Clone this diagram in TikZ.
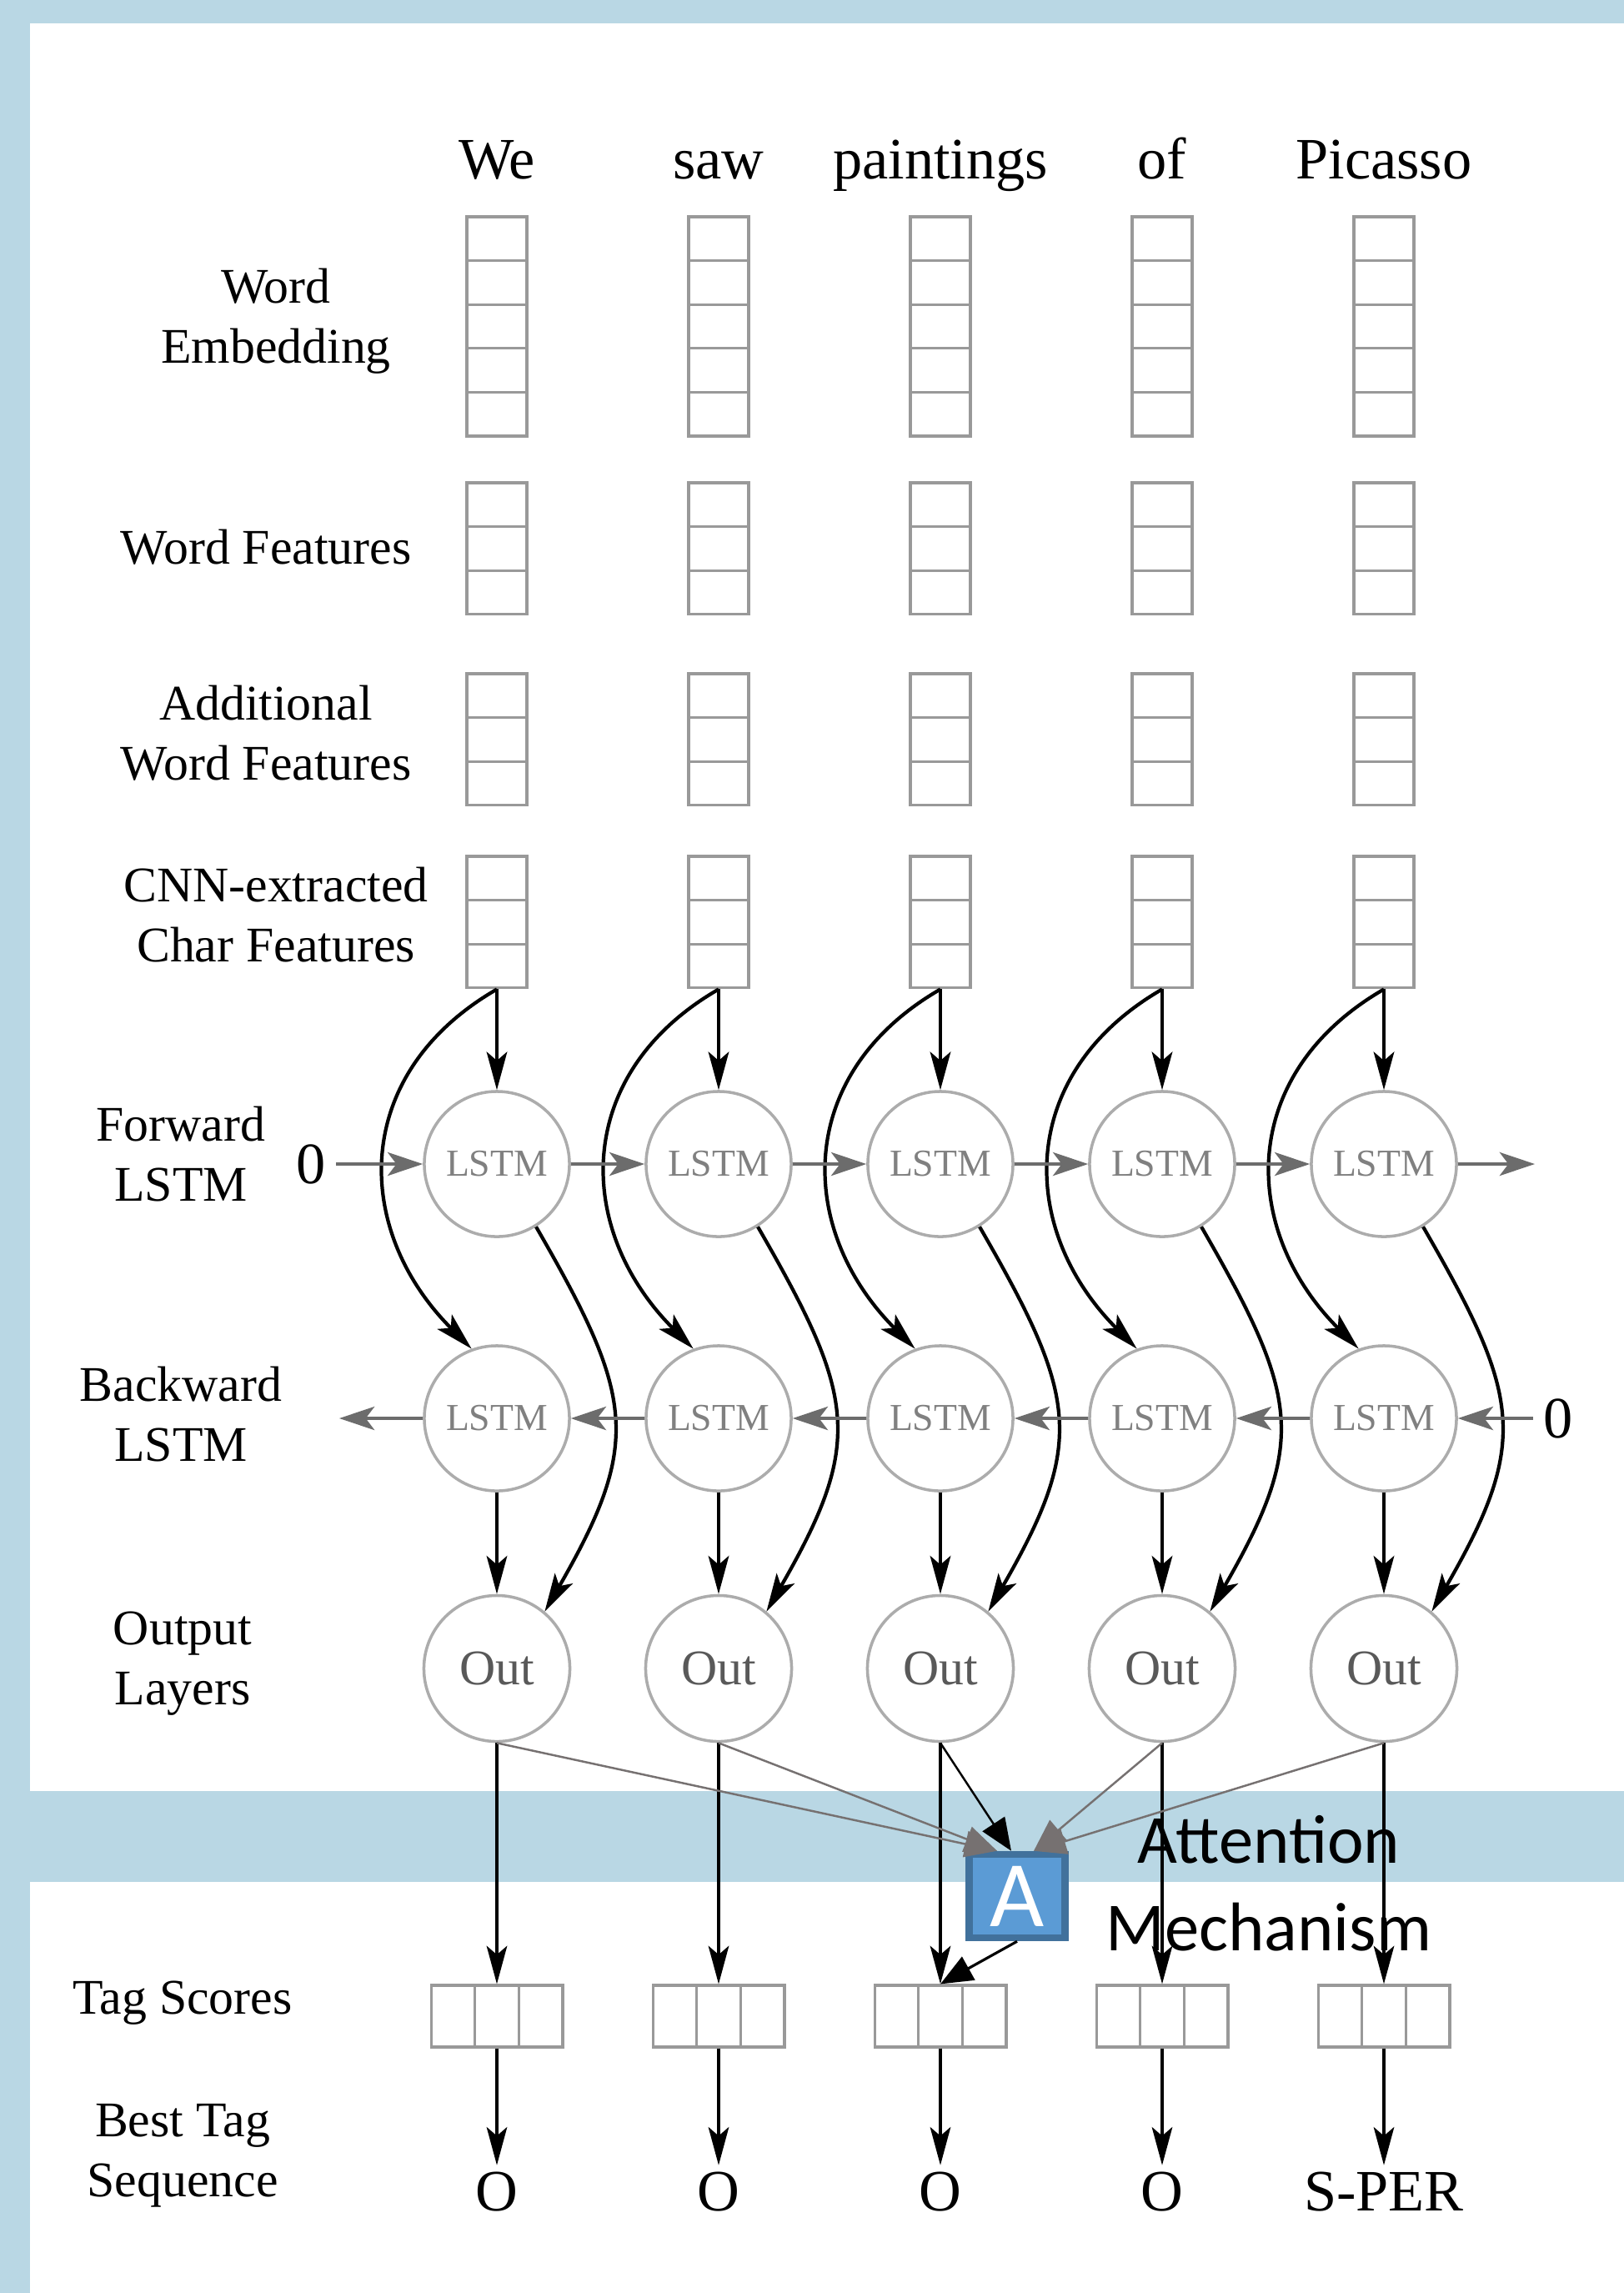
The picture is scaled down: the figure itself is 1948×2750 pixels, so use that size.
\documentclass[tikz,border=0pt]{standalone}
\usepackage{fontspec}
\setmainfont{Liberation Serif}
\newfontfamily\calibri{Carlito}
\usetikzlibrary{arrows.meta,positioning,calc}
\definecolor{frameblue}{HTML}{B9D7E4}
\definecolor{attfill}{HTML}{5B9BD5}
\definecolor{attedge}{HTML}{41719C}
\definecolor{attgray}{HTML}{767171}
\tikzset{
  >=Stealth,
  cell/.style={draw=gray!80,line width=0.9pt,minimum width=0.72cm,minimum height=0.526cm,inner sep=0pt},
  tcell/.style={draw=gray!80,line width=0.9pt,minimum width=0.526cm,minimum height=0.74cm,inner sep=0pt},
  lstm/.style={draw=gray!65,circle,line width=1pt,minimum size=1.74cm,inner sep=0pt,font=\fontsize{13}{15}\selectfont,text=gray},
  outnode/.style={draw=gray!65,circle,line width=1pt,minimum size=1.75cm,inner sep=0pt,font=\fontsize{17}{20}\selectfont,text=gray!70!black},
  word/.style={font=\fontsize{20}{24}\selectfont,anchor=base},
  lbl/.style={align=center,font=\fontsize{17}{20.4}\selectfont},
  feed/.style={->,line width=1.2pt,>={Stealth[length=13pt,width=7pt,inset=3pt]}},
  rec/.style={->,line width=1.1pt,gray!85!black,>={Stealth[length=12pt,width=8pt,inset=3pt]}},
  attn/.style={-{Triangle[length=11pt,width=9pt]},line width=0.7pt,attgray}
}
\begin{document}
\begin{tikzpicture}[x=0.01cm,y=0.01cm]
\useasboundingbox (0,0) rectangle (1948,-2750);
% frame and band
\fill[frameblue](0,0) rectangle (1948,-2750);
\fill[white](36,-28) rectangle (1948,-2148);
\fill[white](36,-2257) rectangle (1948,-2750);
% row labels
\node[lbl](lemb) at (331,-385){Word\\Embedding};
\node[lbl](lwf) at (319,-656){Word Features};
\node[lbl](lawf) at (319,-879){Additional\\Word Features};
\node[lbl](lcnn) at (331,-1097){CNN-extracted\\Char Features};
\node[lbl](lfwd) at (217,-1384){Forward\\LSTM};
\node[lbl](lbwd) at (217,-1696){Backward\\LSTM};
\node[lbl](lout) at (219,-1995){Output\\Layers};
\node[lbl](ltag) at (219,-2402){Tag Scores};
\node[lbl](lbest) at (219,-2585){Best Tag\\Sequence};
% one column per word
\foreach \word/\best [count=\i] in {We/O,saw/O,paintings/O,of/O,Picasso/S-PER}{
  \pgfmathsetmacro\x{596+266*(\i-1)}
  \node[word](w\i) at (\x,-214){\word};
  \foreach \r in {0,...,4}{\node[cell](e\i\r) at (\x,-286.3-52.6*\r){};}
  \foreach \r in {0,1,2}{\node[cell](f\i\r) at (\x,-605.3-52.6*\r){};
    \node[cell](a\i\r) at (\x,-834.3-52.6*\r){};
    \node[cell](c\i\r) at (\x,-1053.3-52.6*\r){};}
  \node[lstm](fwd\i) at (\x,-1396){LSTM};
  \node[lstm](bwd\i) at (\x,-1701){LSTM};
  \node[outnode](out\i) at (\x,-2001){Out};
  \node[tcell](tag\i) at (\x,-2418){};
  \node[tcell](tagl\i) at (\x-52.6,-2418){};
  \node[tcell](tagr\i) at (\x+52.6,-2418){};
  \node[word,inner sep=2pt](best\i) at (\x,-2651){\best};
  \draw[feed](c\i2.south)--(fwd\i.north);
  \draw[feed](c\i2.south) to[out=210,in=135,looseness=1.2](bwd\i.110);
  \draw[feed](fwd\i.-58) to[out=-60,in=60,looseness=1.3](out\i.50);
  \draw[feed](bwd\i.south)--(out\i.north);
  \draw[feed,line width=1pt](out\i.south)--(tag\i.north);
  \draw[feed,line width=0.9pt](tag\i.south)--(best\i.north);
}
% recurrent connections
\node[word,anchor=center](fz) at (373,-1396){0};
\node[word,anchor=center](bz) at (1869,-1701){0};
\coordinate (fend) at (1841,-1396);
\coordinate (bend) at (407,-1701);
\draw[rec](fz)--(fwd1);
\foreach \i [evaluate=\i as \j using int(\i+1)] in {1,...,4}{\draw[rec](fwd\i)--(fwd\j);\draw[rec](bwd\j)--(bwd\i);}
\draw[rec](fwd5)--(fend);
\draw[rec](bz)--(bwd5);
\draw[rec](bwd1)--(bend);
% attention
\node[draw=attedge,fill=attfill,line width=2.4pt,minimum width=1.15cm,minimum height=1cm,inner sep=0pt,text=white,font=\calibri\fontsize{32}{36}\selectfont](att) at (1220,-2274){A};
\node[font=\calibri\fontsize{23.5}{29.8}\selectfont,align=center](attlbl) at (1522,-2259){Attention\\Mechanism};
\draw[attn](out1.south)--([xshift=-0.24cm]att.north);
\draw[attn](out2.south)--([xshift=-0.24cm]att.north);
\draw[attn,black](out3.south)--([xshift=-0.07cm]att.north);
\draw[attn](out4.south)--([xshift=0.2cm]att.north);
\draw[attn](out5.south)--([xshift=0.2cm]att.north);
\draw[attn,black,line width=0.9pt](att.south)--(tag3.north);
\end{tikzpicture}
\end{document}
